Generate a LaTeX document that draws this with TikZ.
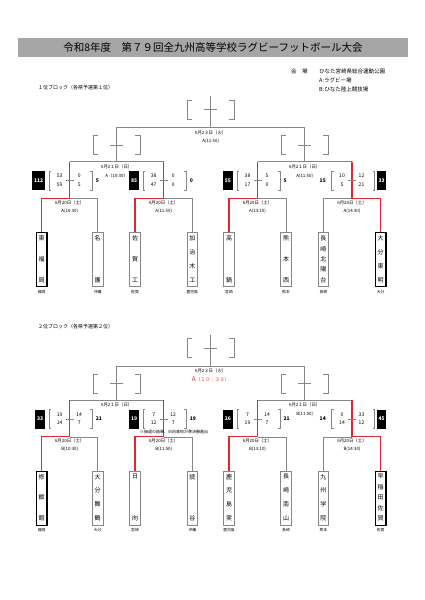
\documentclass[tikz,border=0pt]{standalone}
\usepackage{fontspec}
\setmainfont{Noto Sans CJK JP}
\definecolor{pathred}{RGB}{222,40,52}
\definecolor{linegray}{RGB}{135,135,135}
\definecolor{titlegray}{RGB}{166,166,166}

% one team: node name, x, number of characters, characters, prefecture, box style
\newcommand{\team}[6]{%
  \node[#6] (#1) at (#2,259.7) {};
  \foreach \ch [count=\k] in {#4}
    \node[teamchar] at (#2,{238.3+(\k-1)*41.7/(#3-1)}) {\ch};
  \node[prefname] (#1-pref) at (#2,292) {#5};
}

% score card of a first round game at x = #1
\newcommand{\scores}[9]{%
  \draw[tree] (#1-18.5,171) -- (#1-20.5,171) -- (#1-20.5,190) -- (#1-18.5,190);
  \draw[tree] (#1+20.5,171) -- (#1+22.5,171) -- (#1+22.5,190) -- (#1+20.5,190);
  \draw[tree] (#1-4,180.5) -- (#1+4,180.5);
  \node[score] at (#1-10,176) {#2};
  \node[score] at (#1-10,184.5) {#3};
  \node[score] at (#1+9.5,176) {#4};
  \node[score] at (#1+9.5,184.5) {#5};
  \node[#7, anchor=east] at (#1-24.5,180.5) {#6};
  \node[#9, anchor=west] at (#1+24.5,180.5) {#8};
}

% lines, brackets and crosses that every block shares
\newcommand{\bracketframe}{%
  \coordinate (r1) at (69.7,198.3);
  \coordinate (r2) at (163.7,198.3);
  \coordinate (r3) at (257.5,198.3);
  \coordinate (r4) at (352,198.3);
  \coordinate (s1) at (116.7,161.7);
  \coordinate (s2) at (304.7,161.7);
  \coordinate (fin) at (210.7,127.7);
  \coordinate (top) at (210.7,96);
  \draw[tree] (top) -- (fin);
  \draw[tree] (s1) |- (fin) -| (s2);
  \draw[tree] (r1 |- s1) -- (r2 |- s1);
  \draw[tree] (r3 |- s2) -- (r4 |- s2);
  \foreach \cx/\cy in {210.7/109.5, 116.7/145, 304.7/145} {
    \draw[tree] (\cx-18.5,\cy-9.5) -- (\cx-23.5,\cy-9.5) -- (\cx-23.5,\cy+9.5) -- (\cx-18.5,\cy+9.5);
    \draw[tree] (\cx+18.5,\cy-9.5) -- (\cx+23.5,\cy-9.5) -- (\cx+23.5,\cy+9.5) -- (\cx+18.5,\cy+9.5);
    \draw[tree] (\cx-6.5,\cy) -- (\cx+6.5,\cy);
  }
}

\begin{document}
\begin{tikzpicture}[x=1pt, y=-1pt,
  every node/.style={inner sep=0pt},
  tree/.style={linegray, line width=0.6pt},
  win/.style={pathred, line width=1.1pt},
  teambox/.style={draw=linegray, line width=0.6pt, minimum width=10.5pt, minimum height=54pt},
  seedbox/.style={draw=black, line width=1.2pt, minimum width=10.5pt, minimum height=54pt},
  teamchar/.style={font=\fontsize{6}{6}\selectfont},
  prefname/.style={font=\fontsize{3.8}{4}\selectfont},
  datelbl/.style={font=\fontsize{4.4}{5}\selectfont},
  score/.style={font=\fontsize{5}{5}\selectfont},
  total/.style={font=\bfseries\fontsize{5}{5}\selectfont, inner xsep=1.5pt},
  totalbox/.style={fill=black, text=white, font=\bfseries\fontsize{5}{5}\selectfont, minimum height=19pt, inner xsep=1.8pt},
  blocklbl/.style={font=\fontsize{5}{5}\selectfont, anchor=west},
  venue/.style={font=\fontsize{5.5}{6}\selectfont, anchor=west}]
\useasboundingbox (0,0) rectangle (424,600);

% title and venue
\fill[titlegray] (18,38) rectangle (408,57);
\node[font=\fontsize{10.5}{11}\selectfont] (title) at (213,47.5) {令和8年度　第７９回全九州高等学校ラグビーフットボール大会};
\node[venue] (venue) at (291,71) {会　場};
\node[venue] (park) at (319,71) {ひなた宮崎県総合運動公園};
\node[venue] (venueA) at (319,80) {A:ラグビー場};
\node[venue] (venueB) at (319,89) {B:ひなた陸上競技場};

% ---------- 1st place block ----------
\node[blocklbl] (blk1) at (38,88) {１位ブロック（各県予選第１位）};
\bracketframe
\team{higashifk}{41.7}{3}{東,福,岡}{福岡}{seedbox}
\team{nago}{97.7}{2}{名,護}{沖縄}{teambox}
\team{sagako}{135}{3}{佐,賀,工}{佐賀}{teambox}
\team{kajiki}{192.3}{4}{加,治,木,工}{鹿児島}{teambox}
\team{takanabe}{229}{2}{高,鍋}{宮崎}{teambox}
\team{kumanishi}{286}{3}{熊,本,西}{熊本}{teambox}
\team{hokuyo}{323.3}{5}{長,崎,北,陽,台}{長崎}{teambox}
\team{tomei}{380.7}{4}{大,分,東,明}{大分}{seedbox}

\draw[tree] (nago.north) |- (r1);
\draw[tree] (kajiki.north) |- (r2);
\draw[tree] (kumanishi.north) |- (r3);
\draw[tree] (hokuyo.north) |- (r4);
\draw[win] (higashifk.north) |- (r1) -- (r1 |- s1);
\draw[win] (sagako.north) |- (r2) -- (r2 |- s1);
\draw[win] (takanabe.north) |- (r3) -- (r3 |- s2);
\draw[win] (tomei.north) |- (r4) -- (r4 |- s2);

\scores{69.7}{53}{59}{0}{5}{112}{totalbox}{5}{total}
\scores{163.7}{38}{47}{0}{0}{85}{totalbox}{0}{total}
\scores{257.5}{38}{17}{5}{0}{55}{totalbox}{5}{total}
\scores{352}{10}{5}{12}{21}{15}{total}{33}{totalbox}

\node[datelbl] (d1a) at (69.7,202.5) {6月20日（土）};
\node[datelbl] (t1a) at (69.7,211) {A(10:30)};
\node[datelbl] (d1b) at (163.7,202.5) {6月20日（土）};
\node[datelbl] (t1b) at (163.7,211) {A(11:50)};
\node[datelbl] (d1c) at (257.5,202.5) {6月20日（土）};
\node[datelbl] (t1c) at (257.5,211) {A(13:10)};
\node[datelbl] (d1d) at (352,202.5) {6月20日（土）};
\node[datelbl] (t1d) at (352,211) {A(14:30)};
\node[datelbl] (d1s) at (116.7,166.5) {6月2１日（日）};
\node[datelbl] (t1s) at (116.7,176) {A（10:30）};
\node[datelbl] (d1t) at (304.7,166.5) {6月2１日（日）};
\node[datelbl] (t1t) at (304.7,176) {A(11:50)};
\node[datelbl] (d1f) at (210.7,132.5) {6月2３日（火）};
\node[datelbl] (t1f) at (210.7,141) {A(11:50)};

% ---------- 2nd place block ----------
\begin{scope}[yshift=-238.5pt]
\node[blocklbl] (blk2) at (38,88) {２位ブロック（各県予選第２位）};
\bracketframe
\team{shuyukan}{41.7}{3}{修,猷,館}{福岡}{seedbox}
\team{maizuru}{97.7}{4}{大,分,舞,鶴}{大分}{teambox}
\team{hyuga}{135}{2}{日,向}{宮崎}{teambox}
\team{yomitan}{192.3}{2}{読,谷}{沖縄}{teambox}
\team{kajitsu}{229}{4}{鹿,児,島,実}{鹿児島}{teambox}
\team{nanzan}{286}{4}{長,崎,南,山}{長崎}{teambox}
\team{kyugaku}{323.3}{4}{九,州,学,院}{熊本}{teambox}
\team{wasesaga}{380.7}{5}{早,稲,田,佐,賀}{佐賀}{seedbox}

\draw[tree] (maizuru.north) |- (r1);
\draw[tree] (yomitan.north) |- (r2);
\draw[tree] (nanzan.north) |- (r3);
\draw[tree] (kyugaku.north) |- (r4);
\draw[win] (shuyukan.north) |- (r1) -- (r1 |- s1);
\draw[win] (hyuga.north) |- (r2) -- (r2 |- s1);
\draw[win] (kajitsu.north) |- (r3) -- (r3 |- s2);
\draw[win] (wasesaga.north) |- (r4) -- (r4 |- s2);

\scores{69.7}{19}{14}{14}{7}{33}{totalbox}{21}{total}
\scores{163.7}{7}{12}{12}{7}{19}{totalbox}{19}{total}
\scores{257.5}{7}{19}{14}{7}{26}{totalbox}{21}{total}
\scores{352}{0}{14}{33}{12}{14}{total}{45}{totalbox}

\node[font=\fontsize{4}{4}\selectfont] (lottery) at (174,193) {※抽選の結果、日向高校が準決勝進出};
\node[datelbl] (d2a) at (69.7,202.5) {6月20日（土）};
\node[datelbl] (t2a) at (69.7,211) {B(10:30)};
\node[datelbl] (d2b) at (163.7,202.5) {6月20日（土）};
\node[datelbl] (t2b) at (163.7,211) {B(11:50)};
\node[datelbl] (d2c) at (257.5,202.5) {6月20日（土）};
\node[datelbl] (t2c) at (257.5,211) {B(13:10)};
\node[datelbl] (d2d) at (352,202.5) {6月20日（土）};
\node[datelbl] (t2d) at (352,211) {B(14:30)};
\node[datelbl] (d2s) at (116.7,166.5) {6月2１日（日）};
\node[datelbl] (d2t) at (304.7,166.5) {6月2１日（日）};
\node[datelbl] (t2t) at (304.7,176) {B(11:50)};
\node[datelbl] (d2f) at (210.7,132.5) {6月2３日（火）};
\node[text=pathred] (t2f) at (210.7,141) {{\fontsize{6.5}{7}\selectfont A}{\fontsize{4.8}{5}\selectfont （１０：３０）}};
\end{scope}
\end{tikzpicture}
\end{document}
